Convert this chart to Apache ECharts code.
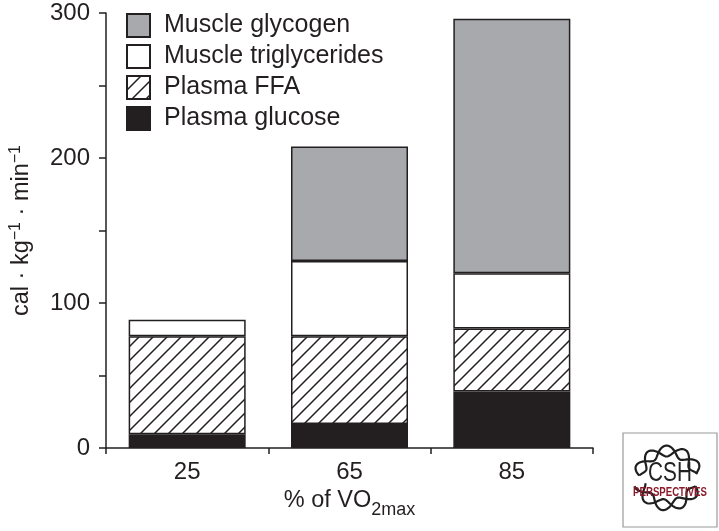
<!DOCTYPE html>
<html>
<head>
<meta charset="utf-8">
<script src="https://cdn.jsdelivr.net/npm/echarts@6/dist/echarts.min.js"></script>
<style>
html,body{margin:0;padding:0;background:#fff;}
#chart{width:719px;height:531px;}
</style>
</head>
<body>
<div id="chart"></div>
<script>
// ---- data ----
var categories = ['25', '65', '85'];
var seriesNames = ['Plasma glucose', 'Plasma FFA', 'Muscle triglycerides', 'Muscle glycogen'];
var plasmaGlucose = [9.5, 16.5, 39];
var plasmaFFA = [67.5, 60.5, 43.5];
var muscleTriglycerides = [11.5, 52, 38];
var muscleGlycogen = [null, 79, 175.5];
var yTickValues = [0, 100, 200, 300];

// ---- styling ----
var INK = '#231f20';
var FONT = '"Liberation Sans", Arial, Helvetica, sans-serif';

function hatchCanvas() {
  var s = 14;
  var c = document.createElement('canvas');
  c.width = s; c.height = s;
  var ctx = c.getContext('2d');
  ctx.fillStyle = '#ffffff';
  ctx.fillRect(0, 0, s, s);
  ctx.strokeStyle = INK;
  ctx.lineWidth = 1.5;
  ctx.beginPath();
  ctx.moveTo(-2, s + 2); ctx.lineTo(s + 2, -2);
  ctx.moveTo(-2, 2); ctx.lineTo(2, -2);
  ctx.moveTo(s - 2, s + 2); ctx.lineTo(s + 2, s - 2);
  ctx.stroke();
  return c;
}
var hatch = { image: hatchCanvas(), repeat: 'repeat' };

// logo helix decoration (not data)
function helixStrand(cx, cy, rx, ry, a0, a1, amp, waves, phase) {
  var pts = [];
  var steps = 80;
  for (var i = 0; i <= steps; i++) {
    var t = a0 + (a1 - a0) * i / steps;
    var k = amp * Math.sin(waves * (t - a0) + phase);
    pts.push([cx + (rx + k) * Math.cos(t), cy + (ry + k) * Math.sin(t)]);
  }
  return pts;
}
var LX = 668, LY = 478;
var logoStrands = [];
[[-Math.PI * 0.97, -Math.PI * 0.05], [Math.PI * 0.1, Math.PI * 0.92]].forEach(function (r) {
  [0, Math.PI].forEach(function (ph) {
    logoStrands.push({
      type: 'polyline',
      shape: { points: helixStrand(LX, LY, 29, 27, r[0], r[1], 5.5, 5.5, ph) },
      style: { fill: null, stroke: '#1f1f1f', lineWidth: 2.2 }
    });
  });
});

var chart = echarts.init(document.getElementById('chart'), null, { renderer: 'canvas' });

function barSeries(name, data, color) {
  return {
    name: name,
    type: 'bar',
    stack: 'total',
    data: data,
    barWidth: 117,
    itemStyle: { color: color, borderColor: INK, borderWidth: 1.5 },
    emphasis: { disabled: true },
    animation: false
  };
}

var option = {
  animation: false,
  backgroundColor: '#ffffff',
  textStyle: { fontFamily: FONT, color: INK },
  grid: { left: 100, right: 126, top: 13, bottom: 83, containLabel: false },
  legend: {
    orient: 'vertical',
    left: 121,
    top: 8,
    itemWidth: 23,
    itemHeight: 23,
    itemGap: 6,
    icon: 'rect',
    data: ['Muscle glycogen', 'Muscle triglycerides', 'Plasma FFA', 'Plasma glucose'],
    textStyle: { fontFamily: FONT, fontSize: 25, lineHeight: 23, color: INK, padding: [0, 0, 0, 9] },
    selectedMode: false
  },
  xAxis: {
    type: 'category',
    data: categories,
    boundaryGap: true,
    axisLine: { lineStyle: { color: INK, width: 1.5 } },
    axisTick: { show: true, length: 6, inside: false, lineStyle: { color: INK, width: 1.5 } },
    axisLabel: { fontFamily: FONT, fontSize: 24, color: INK, margin: 12 },
    name: '{a|% of VO}{s|2max}',
    nameLocation: 'middle',
    nameGap: 38,
    nameTextStyle: {
      fontFamily: FONT, color: INK,
      rich: {
        a: { fontFamily: FONT, fontSize: 23.5, color: INK, verticalAlign: 'bottom', lineHeight: 26 },
        s: { fontFamily: FONT, fontSize: 18, color: INK, verticalAlign: 'bottom', lineHeight: 26, padding: [0, 0, -6, 0] }
      }
    }
  },
  yAxis: {
    type: 'value',
    min: 0,
    max: 300,
    interval: 50,
    axisLine: { show: true, lineStyle: { color: INK, width: 1.5 } },
    axisTick: { show: true, length: 7, inside: false, lineStyle: { color: INK, width: 1.5 } },
    splitLine: { show: false },
    axisLabel: {
      fontFamily: FONT, fontSize: 24, color: INK, margin: 16,
      formatter: function (v) { return yTickValues.indexOf(v) >= 0 ? String(v) : ''; }
    },
    name: '{a|cal · kg}{s|−1}{a| · min}{s|−1}',
    nameLocation: 'middle',
    nameGap: 72,
    nameRotate: 90,
    nameTextStyle: {
      fontFamily: FONT, color: INK,
      rich: {
        a: { fontFamily: FONT, fontSize: 23.5, color: INK, verticalAlign: 'bottom', lineHeight: 27 },
        s: { fontFamily: FONT, fontSize: 16, color: INK, verticalAlign: 'bottom', lineHeight: 27, padding: [0, 0, 10, 0] }
      }
    }
  },
  series: [
    barSeries(seriesNames[0], plasmaGlucose, INK),
    barSeries(seriesNames[1], plasmaFFA, hatch),
    barSeries(seriesNames[2], muscleTriglycerides, '#ffffff'),
    barSeries(seriesNames[3], muscleGlycogen, '#a7a9ac')
  ],
  graphic: [
    { type: 'rect', shape: { x: 623, y: 433, width: 94, height: 94 }, style: { fill: '#ffffff', stroke: '#9a9a9a', lineWidth: 1.2 } }
  ].concat(logoStrands).concat([
    { type: 'text', x: 670, y: 474, scaleX: 0.77, style: { text: 'CSH', fontFamily: FONT, fontSize: 27, fill: '#222222', align: 'center', verticalAlign: 'middle' } },
    { type: 'text', x: 670, y: 493, scaleX: 0.77, style: { text: 'PERSPECTIVES', fontFamily: FONT, fontSize: 12.5, fontWeight: 'bold', fill: '#8b1a2b', align: 'center', verticalAlign: 'middle' } }
  ])
};
chart.setOption(option);
</script>
</body>
</html>
